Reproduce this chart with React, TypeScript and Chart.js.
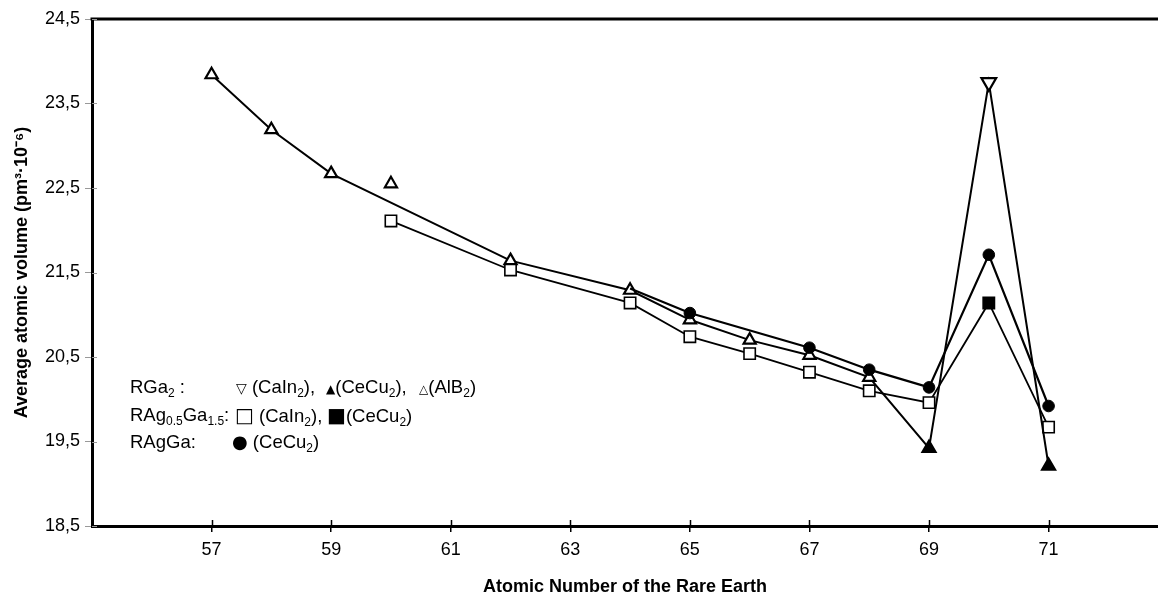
import React, { useEffect, useRef } from 'react';
import { Chart, registerables } from 'chart.js';

Chart.register(...registerables);

// Tick labels
const xTickValues = [57, 59, 61, 63, 65, 67, 69, 71];
const yTickValues = [18.5, 19.5, 20.5, 21.5, 22.5, 23.5, 24.5];

// RGa2 (connected series): atomic number, volume, structure type
const rga2X = [57, 58, 59, 62, 64, 65, 66, 67, 68, 69, 70, 71];
const rga2Y = [23.84, 23.19, 22.67, 21.64, 21.29, 20.94, 20.7, 20.52, 20.26, 19.42, 23.75, 19.21];
const rga2Type = ['AlB2', 'AlB2', 'AlB2', 'AlB2', 'AlB2', 'AlB2', 'AlB2', 'AlB2', 'AlB2', 'CeCu2', 'CaIn2', 'CeCu2'];

// RGa2 (AlB2) isolated point
const rga2ExtraX = [60];
const rga2ExtraY = [22.55];

// RAg0.5Ga1.5
const ragX = [60, 62, 64, 65, 66, 67, 68, 69, 70, 71];
const ragY = [22.11, 21.53, 21.14, 20.74, 20.54, 20.32, 20.1, 19.96, 21.14, 19.67];
const ragType = ['CaIn2', 'CaIn2', 'CaIn2', 'CaIn2', 'CaIn2', 'CaIn2', 'CaIn2', 'CaIn2', 'CeCu2', 'CaIn2'];

// RAgGa (CeCu2)
const raggaX = [64, 65, 67, 68, 69, 70, 71];
const raggaY = [21.31, 21.02, 20.61, 20.35, 20.14, 21.71, 19.92];
const raggaShown = [false, true, true, true, true, true, true];

const FONT = '"Liberation Sans", Arial, sans-serif';

const pts = (xs: number[], ys: number[]) => xs.map((x, i) => ({ x, y: ys[i] }));

export default function App() {
  const ref = useRef<HTMLCanvasElement>(null);

  useEffect(() => {
    const frame = {
      id: 'frame',
      afterDraw(chart: any) {
        const { ctx, chartArea, scales } = chart;
        ctx.save();
        ctx.strokeStyle = '#000';
        ctx.lineWidth = 3;
        ctx.beginPath();
        ctx.moveTo(chartArea.left - 1.5, chartArea.top);
        ctx.lineTo(chartArea.right, chartArea.top);
        ctx.stroke();
        // inward halves of the cross tick marks
        ctx.lineWidth = 1.5;
        ctx.beginPath();
        xTickValues.forEach((v) => {
          const px = Math.round(scales.x.getPixelForValue(v)) + 0.5;
          ctx.moveTo(px, chartArea.bottom);
          ctx.lineTo(px, chartArea.bottom - 6);
        });
        ctx.stroke();
        ctx.strokeStyle = '#999';
        ctx.lineWidth = 1;
        ctx.beginPath();
        yTickValues.forEach((v) => {
          const py = Math.round(scales.y.getPixelForValue(v)) + 0.5;
          ctx.moveTo(chartArea.left, py);
          ctx.lineTo(chartArea.left + 5, py);
        });
        ctx.stroke();
        ctx.restore();
      },
    };

    const chart = new Chart(ref.current as HTMLCanvasElement, {
      type: 'scatter',
      data: {
        datasets: [
          {
            label: 'RAgGa (CeCu2)',
            data: pts(raggaX, raggaY),
            showLine: true,
            borderColor: '#000',
            borderWidth: 2.2,
            pointStyle: 'circle',
            pointRadius: raggaShown.map((s) => (s ? 5.8 : 0)),
            pointBackgroundColor: '#000',
            pointBorderColor: '#000',
            pointBorderWidth: 1,
            order: 0,
          },
          {
            label: 'RGa2',
            data: pts(rga2X, rga2Y),
            showLine: true,
            borderColor: '#000',
            borderWidth: 2,
            pointStyle: 'triangle',
            pointRotation: rga2Type.map((t) => (t === 'CaIn2' ? 180 : 0)),
            pointRadius: rga2Type.map((t) => (t === 'CaIn2' ? 8.5 : t === 'CeCu2' ? 7.5 : 7)),
            pointBackgroundColor: rga2Type.map((t) => (t === 'CeCu2' ? '#000' : '#fff')),
            pointBorderColor: '#000',
            pointBorderWidth: 2.2,
            order: 1,
          },
          {
            label: 'RGa2 extra',
            data: pts(rga2ExtraX, rga2ExtraY),
            showLine: false,
            pointStyle: 'triangle',
            pointRadius: 7,
            pointBackgroundColor: '#fff',
            pointBorderColor: '#000',
            pointBorderWidth: 2.2,
            order: 1,
          },
          {
            label: 'RAg0.5Ga1.5',
            data: pts(ragX, ragY),
            showLine: true,
            borderColor: '#000',
            borderWidth: 1.8,
            pointStyle: 'rect',
            pointRadius: 8,
            pointBackgroundColor: ragType.map((t) => (t === 'CeCu2' ? '#000' : '#fff')),
            pointBorderColor: '#000',
            pointBorderWidth: 1.6,
            order: 2,
          },
        ],
      },
      options: {
        animation: false,
        responsive: false,
        layout: { autoPadding: false, padding: { top: 19, right: 0, left: 0, bottom: 0 } },
        plugins: { legend: { display: false }, tooltip: { enabled: false } },
        scales: {
          x: {
            type: 'linear',
            min: 55,
            max: 72.83,
            afterBuildTicks: (s: any) => {
              s.ticks = xTickValues.map((v) => ({ value: v }));
            },
            afterFit: (s: any) => {
              s.height = 70;
              s.paddingLeft = 0;
              s.paddingRight = 0;
            },
            grid: { drawOnChartArea: false, drawTicks: true, tickLength: 6, color: '#000', lineWidth: 1.5 },
            border: { display: true, color: '#000', width: 3 },
            ticks: {
              color: '#000',
              font: { family: FONT, size: 18 },
              padding: 7,
              maxRotation: 0,
              autoSkip: false,
              callback: (v: any) => String(v),
            },
            title: {
              display: true,
              text: 'Atomic Number of the Rare Earth',
              color: '#000',
              font: { family: FONT, size: 18, weight: 'bold' },
              padding: { top: 0, bottom: -2 },
            },
          },
          y: {
            type: 'linear',
            min: 18.5,
            max: 24.5,
            afterBuildTicks: (s: any) => {
              s.ticks = yTickValues.map((v) => ({ value: v }));
            },
            afterFit: (s: any) => {
              s.width = 92;
            },
            grid: { drawOnChartArea: false, drawTicks: true, tickLength: 7, color: '#999', lineWidth: 1 },
            border: { display: true, color: '#000', width: 3 },
            ticks: {
              color: '#000',
              font: { family: FONT, size: 18 },
              padding: 5,
              autoSkip: false,
              callback: (v: any) => Number(v).toFixed(1).replace('.', ','),
            },
            title: {
              display: true,
              text: 'Average atomic volume (pm³·10⁻⁶)',
              color: '#000',
              font: { family: FONT, size: 18, weight: 'bold' },
              padding: { top: 11, bottom: 0 },
            },
          },
        },
      },
      plugins: [frame],
    } as any);

    return () => chart.destroy();
  }, []);

  const row: React.CSSProperties = {
    position: 'absolute',
    fontFamily: FONT,
    fontSize: 18.5,
    lineHeight: '22px',
    color: '#000',
    whiteSpace: 'nowrap',
  };
  const sub: React.CSSProperties = { fontSize: 12, verticalAlign: '-4px', lineHeight: 0 };
  const sym: React.CSSProperties = { fontFamily: '"DejaVu Sans", sans-serif' };

  return (
    <div style={{ position: 'fixed', left: 0, top: 0, width: 1158, height: 596, background: '#fff' }}>
      <canvas ref={ref} width={1158} height={596} style={{ width: 1158, height: 596, display: 'block' }} />
      <div style={{ ...row, left: 130, top: 376 }}>
        RGa<sub style={sub}>2</sub> :
      </div>
      <div style={{ ...row, left: 236, top: 376 }}>
        <span style={{ ...sym, fontSize: 14 }}>▽</span> (CaIn<sub style={sub}>2</sub>),
      </div>
      <div style={{ ...row, left: 326, top: 376 }}>
        <span style={{ ...sym, fontSize: 12 }}>▲</span>(CeCu<sub style={sub}>2</sub>),
      </div>
      <div style={{ ...row, left: 419, top: 376 }}>
        <span style={{ ...sym, fontSize: 12 }}>△</span>(AlB<sub style={sub}>2</sub>)
      </div>

      <div style={{ ...row, left: 130, top: 404 }}>
        RAg<sub style={sub}>0.5</sub>Ga<sub style={sub}>1.5</sub>:
      </div>
      <div style={{ ...row, left: 235, top: 404 }}>
        <span style={{ ...sym, fontSize: 20 }}>□</span> (CaIn<sub style={sub}>2</sub>),
      </div>
      <div style={{ ...row, left: 327, top: 404 }}>
        <span style={{ ...sym, fontSize: 20 }}>■</span>(CeCu<sub style={sub}>2</sub>)
      </div>

      <div style={{ ...row, left: 130, top: 431 }}>RAgGa:</div>
      <div style={{ ...row, left: 232, top: 431 }}>
        <span style={{ ...sym, fontSize: 18 }}>●</span> (CeCu<sub style={sub}>2</sub>)
      </div>
    </div>
  );
}
